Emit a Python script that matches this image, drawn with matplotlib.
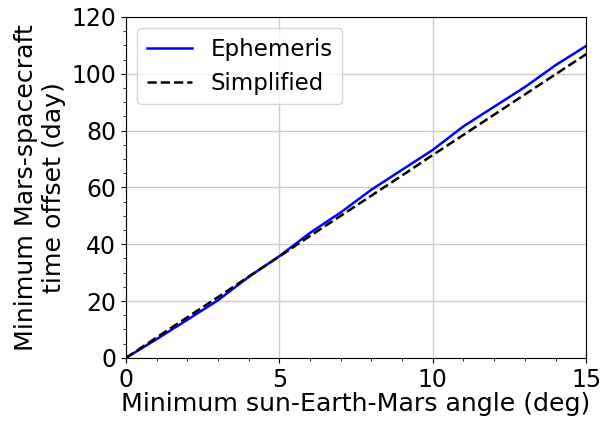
import matplotlib
matplotlib.use("Agg")
import matplotlib.pyplot as plt
from matplotlib.ticker import MultipleLocator

# minimum sun-Earth-Mars angle (deg)
angle = [0, 1, 2, 3, 4, 5, 6, 7, 8, 9, 10, 11, 12, 13, 14, 15]
# minimum Mars-spacecraft time offset (day)
ephemeris = [0, 6.6, 13.4, 20.3, 28.5, 35.8, 44.0, 51.2, 59.2, 66.2,
             73.2, 81.5, 88.4, 95.3, 103.0, 109.8]
simplified = [0, 7.2, 14.3, 21.4, 28.6, 35.7, 42.9, 50.0, 57.1, 64.2,
              71.4, 78.5, 85.6, 92.7, 99.8, 106.9]

fig = plt.figure(figsize=(6.0, 4.23), dpi=100)
ax = fig.add_axes([0.21, 0.154, 0.767, 0.806])

ax.plot(angle, ephemeris, color="blue", lw=1.8, label="Ephemeris")
ax.plot(angle, simplified, color="black", lw=1.8, ls="--", label="Simplified")

ax.set_xlim(0, 15)
ax.set_ylim(0, 120)
ax.xaxis.set_major_locator(MultipleLocator(5))
ax.xaxis.set_minor_locator(MultipleLocator(1))
ax.yaxis.set_major_locator(MultipleLocator(20))
ax.yaxis.set_minor_locator(MultipleLocator(5))
ax.grid(True, which="major", color="0.8", lw=1)
ax.tick_params(labelsize=17)

ax.set_xlabel("Minimum sun-Earth-Mars angle (deg)", fontsize=18.2, labelpad=0)
ax.set_ylabel("Minimum Mars-spacecraft\ntime offset (day)", fontsize=18.2, labelpad=4)
ax.legend(loc="upper left", fontsize=16.5)

fig.savefig("out.png", dpi=100)
